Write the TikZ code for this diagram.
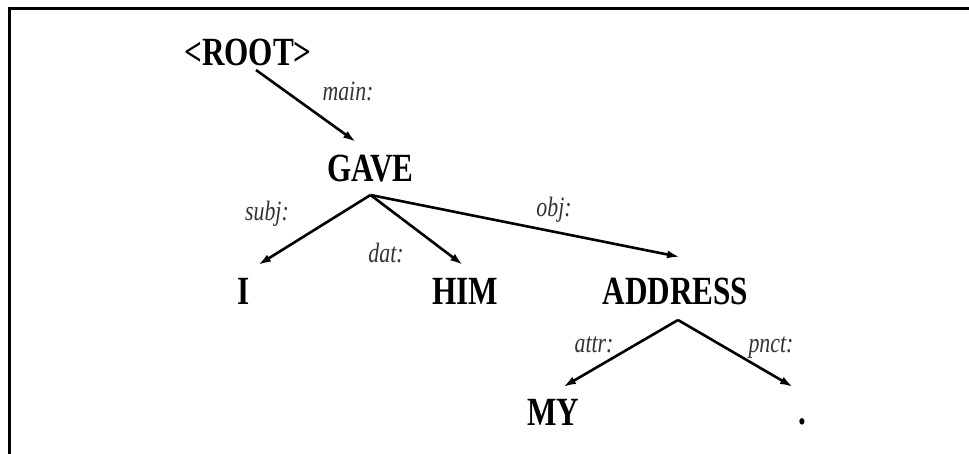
\documentclass[tikz,border=0pt]{standalone}
\usepackage{graphicx}
\usepackage{fontspec}
\setmainfont{Liberation Serif}
\usetikzlibrary{arrows.meta}
\newcommand\sqz[1]{\scalebox{0.78}[1]{#1}}
\tikzset{
  wordnode/.style={inner sep=0pt, anchor=base, font=\fontsize{40}{44}\selectfont\bfseries},
  relnode/.style={inner sep=0pt, anchor=base, text=black!80, font=\fontsize{28}{30}\selectfont\itshape},
  deparrow/.style={line width=2.6pt, -{Latex[length=13pt,width=8pt]}},
  frameline/.style={line width=3pt}
}
\begin{document}
\begin{tikzpicture}[x=1pt,y=-1pt]
\useasboundingbox (0,0) rectangle (969,454);
\draw[frameline] (9.5,454) -- (9.5,8.5) -- (969,8.5);
% words
\node[wordnode] (root) at (248,66) {\sqz{<ROOT>}};
\node[wordnode] (gave) at (370.5,182) {\sqz{GAVE}};
\node[wordnode] (i) at (244,305) {\sqz{I}};
\node[wordnode] (him) at (465.5,305) {\sqz{HIM}};
\node[wordnode] (address) at (675.5,305) {\sqz{ADDRESS}};
\node[wordnode] (my) at (553,425) {\sqz{MY}};
\node[wordnode] (dot) at (802,424) {\sqz{.}};
% relation labels
\node[relnode] (lmain) at (348,101) {\sqz{main:}};
\node[relnode] (lsubj) at (267,221) {\sqz{subj:}};
\node[relnode] (ldat) at (386,263) {\sqz{dat:}};
\node[relnode] (lobj) at (554,217) {\sqz{obj:}};
\node[relnode] (lattr) at (594,352) {\sqz{attr:}};
\node[relnode] (lpnct) at (771,352) {\sqz{pnct:}};
% arrows
\draw[deparrow] ([shift={(8,4)}]root.base) -- ([shift={(-14.5,-40)}]gave.base);
\draw[deparrow] ([shift={(0,13)}]gave.base) -- ([shift={(14,-40)}]i.base);
\draw[deparrow] ([shift={(0,13)}]gave.base) -- ([shift={(-2.5,-40)}]him.base);
\draw[deparrow] ([shift={(0,13)}]gave.base) -- ([shift={(4.5,-48)}]address.base);
\draw[deparrow] ([shift={(2.5,15)}]address.base) -- ([shift={(10,-38)}]my.base);
\draw[deparrow] ([shift={(2.5,15)}]address.base) -- ([shift={(-9,-37)}]dot.base);
\end{tikzpicture}
\end{document}
